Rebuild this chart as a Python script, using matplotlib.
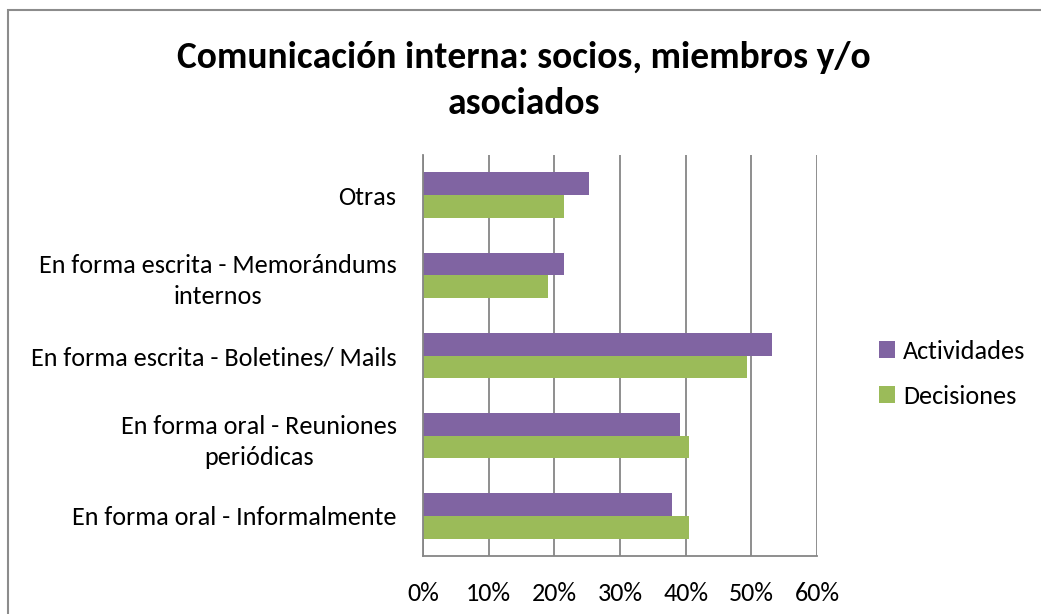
import numpy as np
import matplotlib
matplotlib.use('Agg')
import matplotlib.pyplot as plt
from matplotlib.patches import Rectangle

plt.rcParams['font.family'] = ['Carlito', 'Lato', 'DejaVu Sans']

# data (bottom to top, as drawn)
categorias = ['En forma oral - Informalmente',
              'En forma oral - Reuniones\nperiódicas',
              'En forma escrita - Boletines/ Mails',
              'En forma escrita - Memorándums\ninternos',
              'Otras']
actividades = [37.9, 39.2, 53.1, 21.5, 25.3]
decisiones = [40.5, 40.5, 49.4, 19.0, 21.5]
ticks = [0, 10, 20, 30, 40, 50, 60]

purple = '#8064A2'
green = '#9BBB59'
grid_col = '#868686'

fig = plt.figure(figsize=(10.41, 6.14), dpi=100)
ax = fig.add_axes([423/1041, 1-556/614, 394/1041, 401/614])

y = np.arange(len(categorias))
h = 0.283
ax.barh(y + h/2, actividades, height=h, color=purple, label='Actividades')
ax.barh(y - h/2, decisiones, height=h, color=green, label='Decisiones')

ax.set_xlim(0, 60)
ax.set_ylim(-0.5, len(categorias) - 0.5)
ax.set_xticks(ticks)
ax.set_xticklabels(['%d%%' % t for t in ticks])
ax.set_yticks(y)
ax.set_yticklabels(categorias, multialignment='center', linespacing=1.42)
ax.tick_params(axis='both', length=0, labelsize=18.8, colors='black')
ax.tick_params(axis='y', pad=19)
ax.tick_params(axis='x', pad=19)

ax.xaxis.grid(True, color=grid_col, linewidth=1.3)
ax.set_axisbelow(True)
for s in ['top', 'right']:
    ax.spines[s].set_visible(False)
for s in ['left', 'bottom']:
    ax.spines[s].set_color(grid_col)
    ax.spines[s].set_linewidth(1.3)

fig.text(524/1041, 1-58/614, 'Comunicación interna: socios, miembros y/o',
         ha='center', va='center', fontsize=27, fontweight='bold')
fig.text(524/1041, 1-103/614, 'asociados',
         ha='center', va='center', fontsize=27, fontweight='bold')

fig.legend(loc='center left', bbox_to_anchor=(866/1041, 1-374/614), frameon=False,
           fontsize=18.8, handlelength=0.62, handleheight=0.62, handletextpad=0.3,
           labelspacing=0.85, borderpad=0)

# outer chart border
fig.patches.append(Rectangle((8/1041, -0.05), 1.2, 1-10/614+0.05, transform=fig.transFigure,
                             fill=False, edgecolor='#8c8c8c', linewidth=1.5))

fig.savefig('out.png', dpi=100)
